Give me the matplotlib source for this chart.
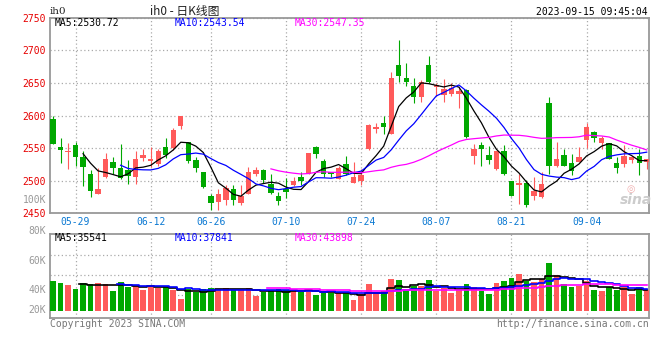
import numpy as np
import pandas as pd
import matplotlib
matplotlib.use('Agg')
import matplotlib.pyplot as plt
from matplotlib.transforms import blended_transform_factory

# ---------------- datos del grafico (ih0, K diaria) ----------------
open_ = [2594, 2551, 2544, 2554, 2537, 2511, 2480, 2505, 2528, 2520,
         2516, 2506, 2535, 2530, 2526, 2552, 2550, 2584, 2559, 2531,
         2513, 2477, 2467, 2470, 2488, 2466, 2480, 2511, 2516, 2495,
         2477, 2487, 2493, 2505, 2511, 2551, 2530, 2514, 2503, 2526,
         2497, 2499, 2549, 2579, 2588, 2571, 2678, 2658, 2646, 2629,
         2678, 2644, 2631, 2633, 2633, 2639, 2538, 2554, 2540, 2518,
         2545, 2500, 2493, 2497, 2477, 2475, 2619, 2522, 2540, 2527,
         2529, 2563, 2574, 2558, 2558, 2527, 2525, 2532, 2538, 2529]
high = [2600, 2565, 2558, 2560, 2545, 2516, 2519, 2542, 2536, 2556,
        2532, 2545, 2548, 2552, 2549, 2566, 2581, 2599, 2560, 2537,
        2514, 2480, 2487, 2493, 2493, 2494, 2521, 2521, 2518, 2510,
        2483, 2504, 2505, 2514, 2542, 2553, 2534, 2514, 2522, 2538,
        2529, 2518, 2587, 2588, 2600, 2667, 2716, 2680, 2658, 2655,
        2692, 2650, 2656, 2650, 2644, 2641, 2556, 2559, 2553, 2545,
        2555, 2500, 2510, 2501, 2505, 2513, 2629, 2560, 2548, 2541,
        2551, 2589, 2576, 2568, 2558, 2537, 2555, 2538, 2548, 2534]
low = [2557, 2527, 2518, 2523, 2492, 2475, 2480, 2504, 2510, 2503,
       2495, 2495, 2530, 2521, 2523, 2535, 2547, 2580, 2527, 2513,
       2489, 2455, 2455, 2462, 2462, 2462, 2479, 2507, 2497, 2480,
       2463, 2474, 2492, 2493, 2510, 2535, 2505, 2506, 2502, 2508,
       2497, 2494, 2547, 2573, 2571, 2571, 2651, 2645, 2619, 2620,
       2650, 2630, 2620, 2630, 2612, 2565, 2526, 2523, 2525, 2516,
       2508, 2477, 2465, 2459, 2471, 2474, 2511, 2521, 2522, 2508,
       2528, 2550, 2559, 2548, 2533, 2512, 2521, 2527, 2508, 2518]
close = [2557, 2547, 2546, 2536, 2521, 2484, 2488, 2534, 2520, 2504,
         2507, 2533, 2540, 2534, 2545, 2539, 2578, 2599, 2530, 2519,
         2490, 2466, 2479, 2489, 2471, 2476, 2513, 2517, 2501, 2481,
         2469, 2483, 2500, 2499, 2542, 2541, 2511, 2511, 2519, 2510,
         2506, 2508, 2586, 2583, 2582, 2658, 2660, 2652, 2628, 2652,
         2652, 2647, 2640, 2642, 2637, 2567, 2549, 2549, 2531, 2545,
         2510, 2477, 2496, 2462, 2484, 2495, 2522, 2533, 2523, 2515,
         2536, 2583, 2566, 2565, 2534, 2519, 2538, 2536, 2527, 2534]
volume = [50700, 47300, 43900, 37200, 47300, 45600, 47300, 45600, 33800, 49000,
          40600, 42300, 35500, 42300, 38900, 40600, 35500, 20300, 37200, 32100,
          37200, 38900, 37200, 38900, 35500, 35500, 38900, 25400, 32100, 33800,
          37200, 35500, 33800, 32100, 37200, 27000, 30400, 30400, 29600, 30900,
          18600, 28200, 45100, 29600, 33500, 53700, 52100, 34600, 41900, 41900,
          52100, 33800, 38400, 29900, 35000, 45100, 40100, 33300, 28200, 46800,
          50200, 55300, 62000, 50200, 48500, 53600, 80600, 60300, 45100, 40100,
          41700, 50200, 35000, 33300, 40100, 35000, 40100, 28200, 40100, 35000]

tick_labels = ['05-29', '06-12', '06-26', '07-10', '07-24', '08-07', '08-21', '09-04']
price_ticks = [2450, 2500, 2550, 2600, 2650, 2700, 2750]
vol_labels = ['100K', '80K', '60K', '40K', '20K']

# dias de negociacion (sin el festivo del Barco del Dragon)
dates = pd.bdate_range('2023-05-24', '2023-09-14')
dates = dates[~dates.isin(pd.to_datetime(['2023-06-22', '2023-06-23']))]
date_str = dates.strftime('%m-%d')

# ---------------- estilos ----------------
RED = '#ff5a5a'
GREEN = '#00a800'
GRID = '#aaaaaa'
EDGE = '#999999'
MONO = 'DejaVu Sans Mono'

W, H = 660, 360


def box(l, t, r, b):
    return [l / W, 1 - b / H, (r - l) / W, (b - t) / H]


fig = plt.figure(figsize=(6.6, 3.6), dpi=100)
ax = fig.add_axes(box(50, 17.7, 649, 213.3))
axv = fig.add_axes(box(50, 234, 649, 318))

x = np.arange(len(close))
o = np.array(open_, float)
c = np.array(close, float)
up = c >= o
col = np.where(up, RED, GREEN)
tick_pos = [int(np.where(date_str == t)[0][0]) for t in tick_labels]

# ---------------- velas ----------------
ax.vlines(x, low, high, colors=col, lw=0.8, zorder=3)
ax.bar(x, np.maximum(np.abs(c - o), 1.2), bottom=np.minimum(o, c),
       width=0.72, color=col, lw=0, zorder=4)

s = pd.Series(c)
ax.plot(x, s.rolling(5).mean(), color='black', lw=0.9, zorder=5)
ax.plot(x, s.rolling(10).mean(), color='#0000ff', lw=0.9, zorder=5)
ax.plot(x, s.rolling(30).mean(), color='#ff00ff', lw=0.9, zorder=5)

ax.set_xlim(-0.4, 79.3)
ax.set_ylim(2450, 2750)
ax.set_yticks(price_ticks)
ax.set_xticks(tick_pos)
ax.set_xticklabels(tick_labels)
ax.tick_params(length=0, labelsize=7, pad=3)
for t in ax.get_yticklabels():
    t.set_color('#e60000')
    t.set_fontfamily(MONO)
for t in ax.get_xticklabels():
    t.set_color('#0a78d2')
    t.set_fontfamily(MONO)
ax.grid(True, color=GRID, ls=(0, (1, 2)), lw=0.9)
ax.set_axisbelow(True)

# ---------------- volumen ----------------
v = pd.Series(volume, dtype=float)
axv.bar(x, volume, width=0.76, color=col, lw=0, zorder=3)
axv.plot(x, v.rolling(5).mean(), color='black', lw=1.2, drawstyle='steps-mid', zorder=4)
axv.plot(x, v.rolling(10).mean(), color='#0000ff', lw=1.2, drawstyle='steps-mid', zorder=4)
axv.plot(x, v.rolling(30).mean(), color='#ff00ff', lw=1.2, drawstyle='steps-mid', zorder=4)
axv.set_xlim(-0.4, 79.3)
axv.set_ylim(-11800, 130000)
axv.set_yticks([26500, 60300, 94100])
axv.set_xticks(tick_pos)
axv.tick_params(length=0, labelleft=False, labelbottom=False)
axv.grid(True, color=GRID, ls=(0, (1, 2)), lw=0.9)
axv.set_axisbelow(True)

for a in (ax, axv):
    for sp in a.spines.values():
        sp.set_color(EDGE)
        sp.set_linewidth(1.3)

# etiquetas del volumen (posiciones como en el original)
for lab, yp in zip(vol_labels, [200, 231, 261, 290, 310]):
    fig.text(46 / W, 1 - yp / H, lab, ha='right', va='center',
             fontsize=7, color='#999999', family=MONO)

# ---------------- textos ----------------
fig.text(50 / W, 1 - 12 / H, 'ih0', fontsize=7.5, family='DejaVu Serif',
         va='center', ha='left', color='#222222')
fig.text(185 / W, 1 - 11 / H, 'ih0 - 日K线图', fontsize=8.5, ha='center', va='center',
         family=['Noto Sans CJK SC', 'DejaVu Sans'], color='#222222')
fig.text(648 / W, 1 - 12 / H, '2023-09-15 09:45:04', fontsize=7, ha='right',
         va='center', family=MONO, color='black')

for a, texts, yp in ((ax, ['MA5:2530.72', 'MA10:2543.54', 'MA30:2547.35'], 23.5),
                     (axv, ['MA5:35541', 'MA10:37841', 'MA30:43898'], 238)):
    for txt, xp, cc in zip(texts, [55, 175, 295], ['black', '#0000ff', '#ff00ff']):
        fig.text(xp / W, 1 - yp / H, txt, fontsize=7, family=MONO, color=cc,
                 ha='left', va='center')

fig.text(50 / W, 1 - 324 / H, 'Copyright 2023 SINA.COM', fontsize=7, family=MONO,
         color='#777777', ha='left', va='center')
fig.text(649 / W, 1 - 324 / H, 'http://finance.sina.com.cn', fontsize=7, family=MONO,
         color='#777777', ha='right', va='center')

# marca de agua sina
fig.text(636 / W, 1 - 200 / H, 'sina', fontsize=10, style='italic', weight='bold',
         color='#cccccc', ha='center', va='center')
fig.text(631 / W, 1 - 189 / H, '◎', fontsize=7, color='#f0b0b0',
         ha='center', va='center')

fig.savefig('out.png', dpi=100, facecolor='white')
